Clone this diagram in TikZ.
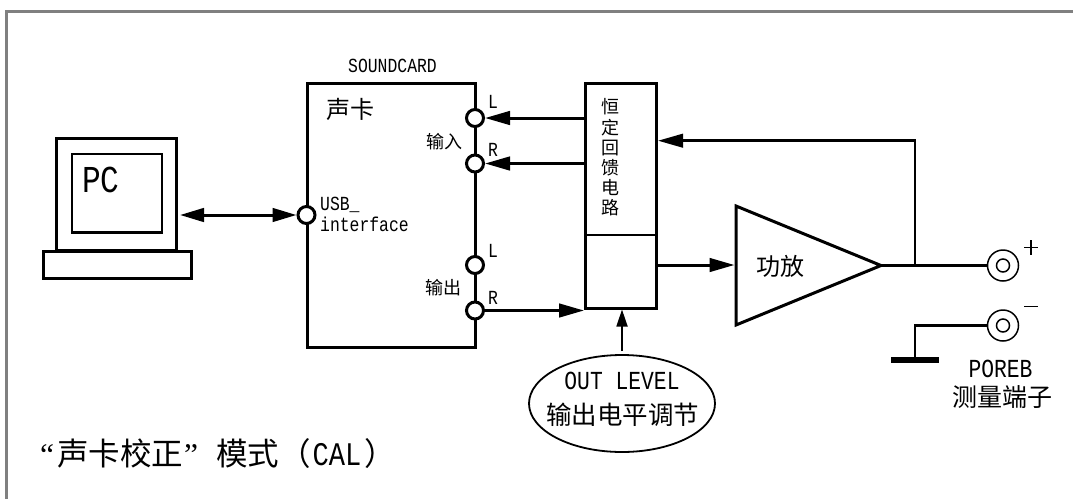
\documentclass[tikz,border=0pt]{standalone}
\usepackage{fontspec}
\setmainfont{Liberation Mono}
\newfontfamily\lat[FakeStretch=0.82]{Liberation Mono}
\newfontfamily\qt{Liberation Serif}
\newfontfamily\cjk{Noto Sans CJK SC}
\usetikzlibrary{shapes.geometric,arrows.meta}
\tikzset{
  x=1pt,y=-1pt,
  blockbox/.style={rectangle,draw=black,line width=3pt,inner sep=0pt,outer sep=1.5pt},
  wire/.style={draw=black,line width=3pt},
  thinwire/.style={draw=black,line width=2.5pt},
  head/.style={-{Triangle[length=25pt,width=13.5pt]}},
  jack/.style={circle,draw=black,fill=white,line width=3pt,minimum size=17pt,inner sep=0pt},
  term/.style={circle,draw=black,fill=white,line width=1.5pt,minimum size=31pt,inner sep=0pt},
  termin/.style={circle,draw=black,fill=white,line width=1.5pt,minimum size=13pt,inner sep=0pt},
  lbl/.style={inner sep=0pt,font=\lat\fontsize{20}{20}\selectfont},
  zh/.style={inner sep=0pt,font=\cjk\fontsize{18}{18}\selectfont},
}
\begin{document}
\begin{tikzpicture}
\useasboundingbox (0,0) rectangle (1073,499);
\fill[white] (0,0) rectangle (1073,499);
\draw[draw=black!50,line width=3pt] (1073,11.5) -- (6.5,11.5) -- (6.5,499);

% PC
\node[blockbox,minimum width=120pt,minimum height=111.5pt] (mon) at (116.5,194.25) {};
\node[blockbox,line width=2.2pt,outer sep=1.1pt,minimum width=90pt,minimum height=78.5pt] (scr) at (116.8,193.3) {};
\node[blockbox,minimum width=148pt,minimum height=26.5pt] (base) at (117.5,264.75) {};
\node[inner sep=0pt,font=\lat\fontsize{38}{38}\selectfont] (pc) at (101,180) {PC};

% sound card
\node[blockbox,minimum width=168pt,minimum height=264pt] (card) at (307+84,83+132) {};
\node[lbl] (sc) at (392.5,66) {SOUNDCARD};
\node[zh,font=\cjk\fontsize{24}{24}\selectfont] (skl) at (350,109) {声卡};
\node[jack] (usb) at (306.5,215) {};
\node[jack] (il) at (475,118) {};
\node[jack] (ir) at (475,163.5) {};
\node[jack] (ol) at (475,265) {};
\node[jack] (or) at (475,310.5) {};
\node[lbl,anchor=base west] (u1) at (320,210) {USB\_};
\node[lbl,anchor=base west] (u2) at (320,231) {interface};
\node[lbl,anchor=base west] (ll) at (488,108) {L};
\node[lbl,anchor=base west] (lr) at (488,156) {R};
\node[lbl,anchor=base west] (oll) at (488,257) {L};
\node[lbl,anchor=base west] (olr) at (488,304) {R};
\node[zh] (inp) at (444,142) {输入};
\node[zh] (outp) at (443,288) {输出};

% feedback box
\node[blockbox,minimum width=71pt,minimum height=224.5pt] (fb) at (621,195.75) {};
\draw[draw=black,line width=1.5pt] (fb.west |- 0,235) -- (fb.east |- 0,235);
\node[zh,align=center,font=\cjk\fontsize{18}{20.2}\selectfont] (fbt) at (610.5,157.5) {恒\\定\\回\\馈\\电\\路};

% amplifier
\coordinate (ampt) at (736,206);
\coordinate (ampb) at (736,325);
\coordinate (ampout) at (881,265.5);
\draw[draw=black,line width=3pt,line join=miter] (ampt) -- (ampout) -- (ampb) -- cycle;
\coordinate (ampin) at (734.5,265);
\node[zh,font=\cjk\fontsize{24}{24}\selectfont] (amp) at (780,266) {功放};

% terminals
\node[term] (tp) at (1003,265.5) {};
\node[termin] (tpi) at (tp) {};
\node[term] (tm) at (1003,325.5) {};
\node[termin] (tmi) at (tm) {};
\draw[draw=black,line width=1.5pt] (1024,247.5) -- (1038,247.5) (1031,240) -- (1031,255);
\draw[draw=black,line width=1.5pt] (1024,306.7) -- (1038,306.7);
\node[inner sep=0pt,font=\lat\fontsize{26}{26}\selectfont] (poreb) at (1000.5,369) {POREB};
\node[zh,font=\cjk\fontsize{25}{25}\selectfont] (cl) at (1002,397) {测量端子};

% ground
\node[rectangle,fill=black,inner sep=0pt,minimum width=48pt,minimum height=6pt] (gnd) at (915,360) {};
\coordinate (fbj) at (915,265.5);

% connectors
\draw[wire,{Triangle[length=24pt,width=13.5pt]}-{Triangle[length=24pt,width=13.5pt]}] (mon.east |- usb) ++(2,0) -- (usb);
\draw[wire,head] (fb.west |- il) -- (il);
\draw[wire,head] (fb.west |- ir) -- (ir);
\draw[wire,head] (or) -- (fb.west |- or);
\draw[wire,head] (fb.east |- ampin) -- (ampin);
\draw[thinwire] (ampout) -- (tp);
\draw[thinwire,head] (fbj) -- (fbj |- 0,140.7) -- (fb.east |- 0,140.7);
\draw[thinwire] (tm) -| (gnd);

% level control
\node[ellipse,draw=black,line width=1.8pt,fill=white,minimum width=186pt,minimum height=97pt,inner sep=0pt] (lev) at (622,403.5) {};
\node[inner sep=0pt,font=\lat\fontsize{26}{26}\selectfont] (levt) at (622,381) {OUT LEVEL};
\node[zh,font=\cjk\fontsize{25.5}{25.5}\selectfont] (levz) at (622.5,415) {输出电平调节};
\draw[draw=black,line width=1.8pt,-{Triangle[length=17pt,width=11pt]}] (lev.north) ++(0,-3) -- (fb.south -| lev.north);

% caption
\node[inner sep=0pt,anchor=base west,font=\cjk\fontsize{31.5}{31.5}\selectfont] (cap) at (40,465) {{\qt “}\hspace{3pt}声卡校正\hspace{1pt}{\qt ”}\hspace{18pt}模式（\hspace{2pt}{\lat\fontsize{33}{33}\selectfont CAL}\hspace{3pt}）};
\end{tikzpicture}
\end{document}
